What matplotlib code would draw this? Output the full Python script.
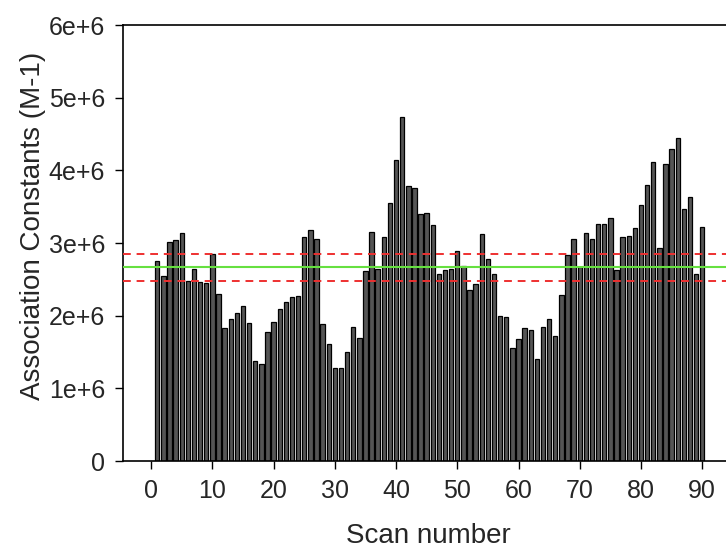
import matplotlib
matplotlib.use("Agg")
import matplotlib.pyplot as plt

plt.rcParams["font.family"] = ["Liberation Sans", "DejaVu Sans"]

# scan numbers 1..90 and association constants (in units of 1e6 M-1)
scans = list(range(1, 91))
constants = [
    2.75, 2.55, 3.02, 3.04, 3.14, 2.48, 2.65, 2.47, 2.45, 2.85,
    2.30, 1.83, 1.95, 2.04, 2.14, 1.90, 1.38, 1.33, 1.77, 1.92,
    2.09, 2.19, 2.26, 2.27, 3.08, 3.18, 3.06, 1.89, 1.61, 1.28,
    1.28, 1.50, 1.85, 1.70, 2.62, 3.15, 2.64, 3.09, 3.55, 4.15,
    4.74, 3.79, 3.76, 3.40, 3.41, 3.25, 2.58, 2.63, 2.65, 2.89,
    2.69, 2.35, 2.44, 3.13, 2.78, 2.57, 2.00, 1.98, 1.55, 1.68,
    1.83, 1.81, 1.41, 1.84, 1.95, 1.72, 2.28, 2.84, 3.05, 2.67,
    3.14, 3.06, 3.26, 3.26, 3.35, 2.63, 3.09, 3.10, 3.21, 3.53,
    3.80, 4.12, 2.93, 4.09, 4.30, 4.45, 3.47, 3.64, 2.57, 3.22,
]
values = [c * 1e6 for c in constants]

mean_value = 2.665e6
upper_limit = 2.855e6
lower_limit = 2.48e6

yticks = [0, 1e6, 2e6, 3e6, 4e6, 5e6, 6e6]
ytick_labels = ["0", "1e+6", "2e+6", "3e+6", "4e+6", "5e+6", "6e+6"]
xticks = list(range(0, 100, 10))

text_color = "#262626"

fig = plt.figure(figsize=(7.26, 5.51), dpi=100)
ax = fig.add_axes([0.1694, 0.1633, 0.840, 0.791])

ax.bar(scans, values, width=0.72, color="#555555", edgecolor="black", linewidth=0.9, zorder=2)

ax.axhline(mean_value, color="#66e040", linewidth=1.5, zorder=3)
ax.axhline(upper_limit, color="#ee3030", linewidth=1.4, linestyle=(0, (4, 3)), zorder=3)
ax.axhline(lower_limit, color="#ee3030", linewidth=1.4, linestyle=(0, (4, 3)), zorder=3)

ax.set_xlim(-4.6, 95)
ax.set_ylim(0, 6e6)
ax.set_yticks(yticks)
ax.set_yticklabels(ytick_labels)
ax.set_xticks(xticks)

ax.tick_params(direction="out", length=6, width=1, labelsize=18, pad=7,
               labelcolor=text_color)
for s in ax.spines.values():
    s.set_linewidth(1.2)

ax.set_xlabel("Scan number", fontsize=20, labelpad=14, color=text_color)
ax.set_ylabel("Association Constants (M-1)", fontsize=20, labelpad=2,
              color=text_color, y=0.54)

fig.savefig("out.png", dpi=100)
